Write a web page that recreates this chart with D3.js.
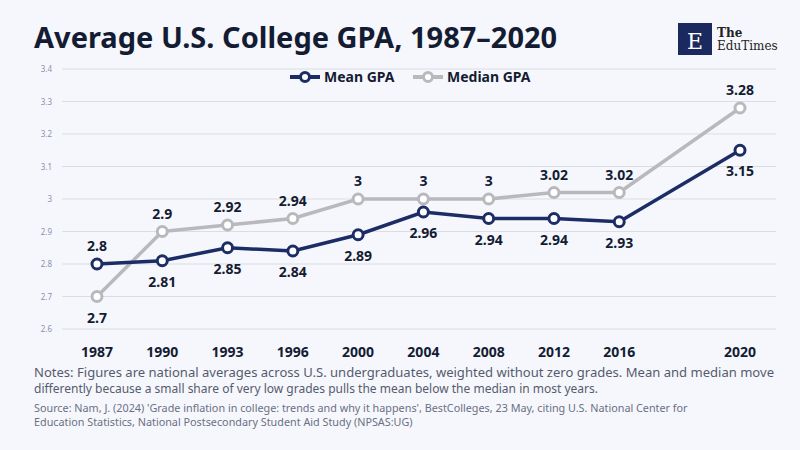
<!DOCTYPE html>
<html><head><meta charset="utf-8">
<script src="https://cdn.jsdelivr.net/npm/d3@7"></script>
<style>
body{margin:0;background:#f6f7fc;font-family:"Noto Sans",sans-serif}
</style></head>
<body><svg id="c" width="800" height="450"></svg>
<script>
'use strict';

var data = [
  {year:"1987", pos:0, mean:2.80, median:2.70},
  {year:"1990", pos:1, mean:2.81, median:2.90},
  {year:"1993", pos:2, mean:2.85, median:2.92},
  {year:"1996", pos:3, mean:2.84, median:2.94},
  {year:"2000", pos:4, mean:2.89, median:3.00},
  {year:"2004", pos:5, mean:2.96, median:3.00},
  {year:"2008", pos:6, mean:2.94, median:3.00},
  {year:"2012", pos:7, mean:2.94, median:3.02},
  {year:"2016", pos:8, mean:2.93, median:3.02},
  {year:"2020", pos:9.85, mean:3.15, median:3.28}
]

var svg = d3.select("#c")
svg.append("rect").attr("width",800).attr("height",450).attr("fill","#f6f7fc")

var x = d3.scaleLinear().domain([0,9.85]).range([97,740])
var y = d3.scaleLinear().domain([2.6,3.4]).range([329,69])

svg.append("text").attr("x",34).attr("y",48).attr("font-size",29).attr("font-weight",700)
  .attr("fill","#141c33").text("Average U.S. College GPA, 1987–2020")

// logo
svg.append("rect").attr("x",678).attr("y",23).attr("width",34).attr("height",32).attr("fill","#1a2a5e")
svg.append("text").attr("x",695).attr("y",49).attr("text-anchor","middle").attr("font-family","DejaVu Serif, serif")
  .attr("font-size",22).attr("fill","#fff").text("E")
svg.append("text").attr("x",717).attr("y",37).attr("font-family","DejaVu Serif, serif").attr("font-size",12).attr("font-weight",700).attr("fill","#222").text("The")
svg.append("text").attr("x",717).attr("y",50).attr("font-family","DejaVu Serif, serif").attr("font-size",12).attr("fill","#222").text("EduTimes")

// grid
var ticks = d3.range(2.6,3.41,0.1)
svg.selectAll(".g").data(ticks).enter().append("line")
  .attr("x1",62).attr("x2",776).attr("y1",function(d){return y(d)}).attr("y2",function(d){return y(d)})
  .attr("stroke","#dcdde3").attr("stroke-width",1)
svg.selectAll(".yt").data(ticks).enter().append("text")
  .attr("x",52).attr("y",function(d){return y(d)+3}).attr("text-anchor","end")
  .attr("font-size",8).attr("fill","#8a93ad").text(function(d){return d3.format("")(+d.toFixed(1))})

svg.selectAll(".xt").data(data).enter().append("text")
  .attr("x",function(d){return x(d.pos)}).attr("y",357).attr("text-anchor","middle")
  .attr("font-size",14).attr("font-weight",700).attr("fill","#141c33").text(function(d){return d.year})

var series = [
  {key:"median", name:"Median GPA", color:"#b9b9bd"},
  {key:"mean", name:"Mean GPA", color:"#1c2d66"}
]

series.forEach(function(s){
  var line = d3.line().x(function(d){return x(d.pos)}).y(function(d){return y(d[s.key])})
  svg.append("path").datum(data).attr("d",line).attr("fill","none").attr("stroke",s.color).attr("stroke-width",3.5)
  svg.selectAll(".p"+s.key).data(data).enter().append("circle")
    .attr("cx",function(d){return x(d.pos)}).attr("cy",function(d){return y(d[s.key])}).attr("r",5)
    .attr("fill","#fff").attr("stroke",s.color).attr("stroke-width",3)
  svg.selectAll(".l"+s.key).data(data).enter().append("text")
    .attr("x",function(d){return x(d.pos)})
    .attr("y",function(d){
      var above = s.key=="median" ? d.year!="1987" : d.year=="1987"
      return y(d[s.key]) + (above ? -13 : 26)
    })
    .attr("text-anchor","middle").attr("font-size",14).attr("font-weight",700).attr("fill","#141c33")
    .text(function(d){return d[s.key]})
})

// legend
var lg = [{name:"Mean GPA", color:"#1c2d66", x:290},{name:"Median GPA", color:"#b9b9bd", x:413}]
lg.forEach(function(l){
  svg.append("line").attr("x1",l.x).attr("x2",l.x+30).attr("y1",77).attr("y2",77).attr("stroke",l.color).attr("stroke-width",4)
  svg.append("circle").attr("cx",l.x+15).attr("cy",77).attr("r",4.5).attr("fill","#fff").attr("stroke",l.color).attr("stroke-width",3)
  svg.append("text").attr("x",l.x+34).attr("y",82).attr("font-size",14).attr("font-weight",700).attr("fill","#141c33").text(l.name)
})

var notes = ["Notes: Figures are national averages across U.S. undergraduates, weighted without zero grades. Mean and median move",
  "differently because a small share of very low grades pulls the mean below the median in most years."]
notes.forEach(function(t,i){
  svg.append("text").attr("x",34).attr("y",377+i*16).attr("font-size",12).attr("fill","#555b6e")
    .attr("textLength", i==0 ? 740 : null).attr("lengthAdjust","spacingAndGlyphs").text(t)
})
var src = ["Source: Nam, J. (2024) 'Grade inflation in college: trends and why it happens', BestColleges, 23 May, citing U.S. National Center for",
  "Education Statistics, National Postsecondary Student Aid Study (NPSAS:UG)"]
src.forEach(function(t,i){
  svg.append("text").attr("x",34).attr("y",412+i*14).attr("font-size",10.8).attr("fill","#6a7083").text(t)
})
</script></body></html>
